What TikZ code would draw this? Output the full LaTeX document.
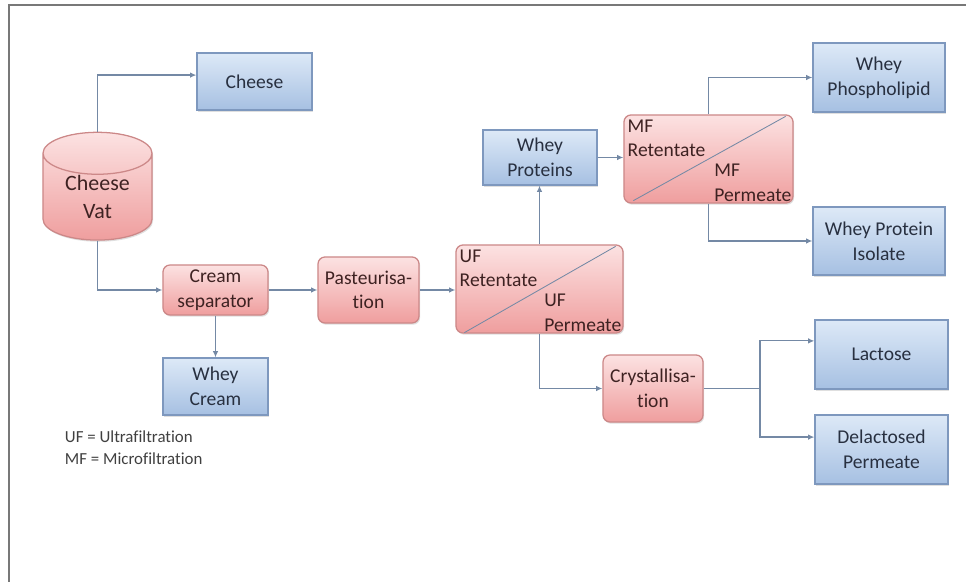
\documentclass[tikz,border=0pt]{standalone}
\usepackage{fontspec}
\setmainfont{Carlito}[Ligatures=NoCommon]
\usepackage{tikz}
\usetikzlibrary{positioning,arrows.meta,shapes.geometric,calc,shadows}
\definecolor{productotop}{RGB}{221,233,247}
\definecolor{productobot}{RGB}{166,192,226}
\definecolor{productoborde}{RGB}{126,152,190}
\definecolor{procesotop}{RGB}{252,226,226}
\definecolor{procesobot}{RGB}{239,158,158}
\definecolor{procesoborde}{RGB}{204,136,136}
\definecolor{textoazul}{RGB}{40,48,64}
\definecolor{textorojo}{RGB}{62,34,34}
\definecolor{linea}{RGB}{116,137,165}
\definecolor{marco}{RGB}{120,120,120}

\begin{document}
\begin{tikzpicture}[x=0.025cm, y=-0.025cm,
    font=\fontsize{13.9pt}{17.5pt}\selectfont,
    producto/.style={rectangle, draw=productoborde, line width=0.9pt,
      top color=productotop, bottom color=productobot, text=textoazul,
      align=center, inner sep=2pt,
      drop shadow={shadow xshift=0.8pt, shadow yshift=-1.2pt, opacity=0.25}},
    proceso/.style={rectangle, rounded corners=5pt, draw=procesoborde, line width=0.9pt,
      top color=procesotop, bottom color=procesobot, text=textorojo,
      align=center, inner sep=2pt,
      drop shadow={shadow xshift=0.8pt, shadow yshift=-1.2pt, opacity=0.25}},
    flujo/.style={draw=linea, line width=0.85pt, -{Latex[length=4.5pt,width=4pt]}},
    etiqueta/.style={text=textorojo, align=left, inner sep=1.5pt}]
  \useasboundingbox (0,0) rectangle (966,582);
  \draw[marco, line width=1.3pt] (9,582) -- (9,5) -- (966,5);

  % cheese vat and its first products
  \node[cylinder, shape border rotate=90, aspect=0.65, draw=procesoborde, line width=0.9pt,
    top color=procesotop, bottom color=procesobot, text=textorojo, align=center,
    minimum width=2.725cm, minimum height=2.625cm, inner sep=0pt,
    font=\fontsize{15.6pt}{20.5pt}\selectfont,
    drop shadow={shadow xshift=0.8pt, shadow yshift=-1.2pt, opacity=0.25}]
    (vat) at (97.5,197) {Cheese\\Vat};
  \node[producto, minimum width=2.875cm, minimum height=1.425cm] (cheese) at (254.5,81.5) {Cheese};
  \node[proceso, minimum width=2.625cm, minimum height=1.25cm] (cream) at (215.5,290) {Cream\\separator};
  \node[producto, minimum width=2.625cm, minimum height=1.425cm] (wcream) at (215.5,386.5) {Whey\\Cream};
  \node[proceso, minimum width=2.525cm, minimum height=1.65cm] (past) at (368.5,290) {Pasteurisa-\\tion};

  % ultrafiltration
  \node[proceso, minimum width=4.175cm, minimum height=2.2cm] (uf) at (539.5,289) {};
  \draw[linea, line width=0.6pt] ($(uf.south west)+(9,-1)$) -- ($(uf.north east)+(-8,2)$);
  \node[etiqueta, anchor=north west] (ufret) at ($(uf.north west)+(2,3)$) {UF\\Retentate};
  \node[etiqueta, anchor=south east] (ufper) at (uf.south east) {UF\\Permeate};
  \node[producto, minimum width=2.85cm, minimum height=1.375cm] (wprot) at (540,157.5) {Whey\\Proteins};

  % microfiltration
  \node[proceso, minimum width=4.225cm, minimum height=2.2cm] (mf) at (708.5,159) {};
  \draw[linea, line width=0.6pt] ($(mf.south west)+(10,-3)$) -- ($(mf.north east)+(-8,2)$);
  \node[etiqueta, anchor=north west] (mfret) at ($(mf.north west)+(2,3)$) {MF\\Retentate};
  \node[etiqueta, anchor=south east] (mfper) at (mf.south east) {MF\\Permeate};
  \node[producto, minimum width=3.3cm, minimum height=1.725cm] (wphos) at (879,77.5) {Whey\\Phospholipid};
  \node[producto, minimum width=3.3cm, minimum height=1.7cm] (wpi) at (879,241) {Whey Protein\\Isolate};

  % lactose line
  \node[proceso, minimum width=2.5cm, minimum height=1.675cm] (crys) at (653,388.5) {Crystallisa-\\tion};
  \node[producto, minimum width=3.325cm, minimum height=1.725cm] (lactose) at (881.5,354.5) {Lactose};
  \node[producto, minimum width=3.325cm, minimum height=1.725cm] (delac) at (881.5,449.5) {Delactosed\\Permeate};
  \coordinate (split) at (760,388.5);

  \node[anchor=west, align=left, text=black!75, font=\fontsize{12pt}{15.6pt}\selectfont]
    (leyenda) at (60,448) {UF = Ultrafiltration\\MF = Microfiltration};

  % flows
  \draw[flujo] (vat.north) |- ([yshift=0.16cm]cheese.west);
  \draw[flujo] (vat.south) |- (cream.west);
  \draw[flujo] (cream.south) -- (wcream.north);
  \draw[flujo] (cream.east) -- (cream.east -| past.west);
  \draw[flujo] (past.east) -- (past.east -| uf.west);
  \draw[flujo] (uf.north) -- (uf.north |- wprot.south);
  \draw[flujo] (wprot.east) -- (wprot.east -| mf.west);
  \draw[flujo] (mf.north) |- (wphos.west);
  \draw[flujo] (mf.south) |- (wpi.west);
  \draw[flujo] (uf.south) |- (crys.west);
  \draw[draw=linea, line width=0.85pt] (crys.east) -- (split);
  \draw[flujo] (split) |- ([yshift=0.34cm]lactose.west);
  \draw[flujo] (split) |- ([yshift=0.31cm]delac.west);
\end{tikzpicture}
\end{document}
